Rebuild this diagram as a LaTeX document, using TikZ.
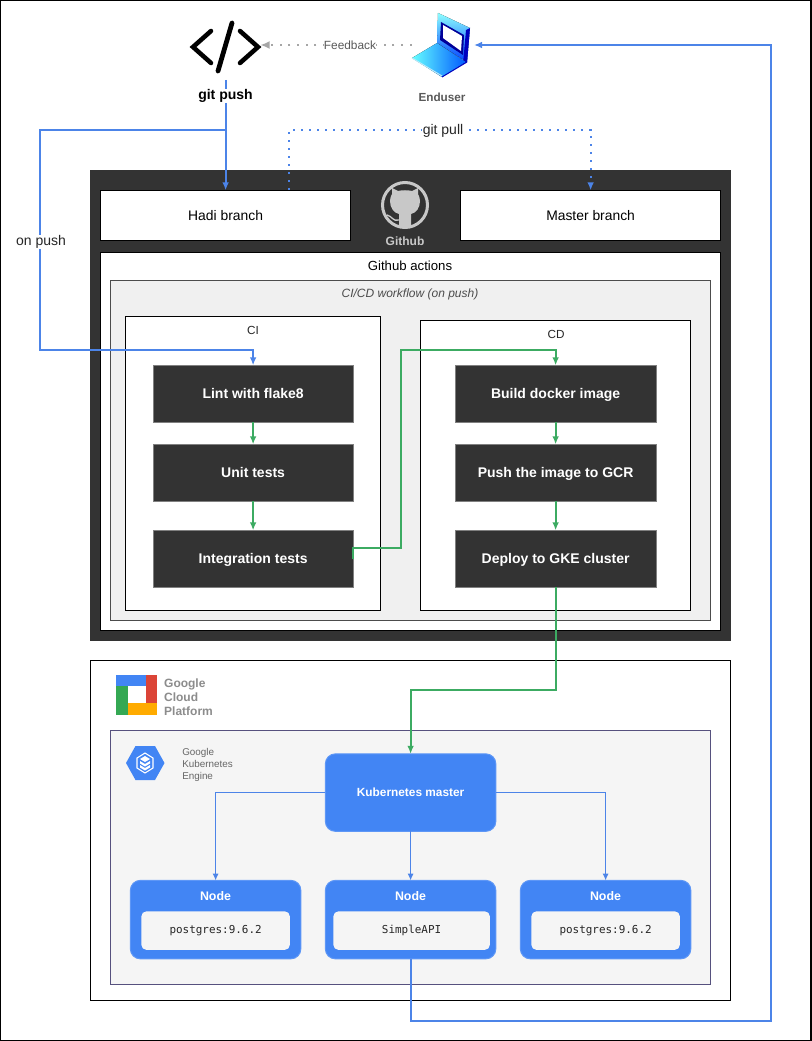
\documentclass[tikz,border=0pt]{standalone}
\usepackage{fontspec}
\setmainfont{Liberation Sans}
\setmonofont{DejaVu Sans Mono}
\usetikzlibrary{arrows.meta}
\definecolor{ghdark}{HTML}{333333}
\definecolor{gcpblue}{HTML}{4285F4}
\definecolor{gcpred}{HTML}{DB4437}
\definecolor{gcpgreen}{HTML}{34A853}
\definecolor{gcpyellow}{HTML}{FFAB00}
\definecolor{flowgreen}{HTML}{3CAB62}
\definecolor{linkblue}{HTML}{4C84E8}
\definecolor{logogrey}{HTML}{C8C8C8}
\definecolor{gkeborder}{HTML}{56517E}

\tikzset{
	wh/.style 2 args = {minimum width = (#1 - 0.5) * 0.75pt, minimum height = (#2 - 0.5) * 0.75pt, inner sep = 0pt, outer sep = 0pt},
	whitebox/.style = {draw = black, line width = 0.75pt, fill = white, align = center},
	stepbox/.style = {fill = ghdark, draw = gray, line width = 0.5pt, text = white, text height = 9pt, text depth = 1pt, font = \fontsize{10.5}{12}\selectfont\bfseries},
	gcpbox/.style = {fill = gcpblue, draw = gcpblue!85!white, line width = 0.75pt, rounded corners = 7.5pt, text = white, font = \fontsize{8.9}{10}\selectfont\bfseries},
	podbox/.style = {fill = black!4, rounded corners = 3.75pt, font = \ttfamily\fontsize{8.2}{10}\selectfont, text = black!85},
	branchtext/.style = {font = \fontsize{10.4}{12}\selectfont},
	linklabel/.style = {font = \fontsize{10.5}{12}\selectfont, text = black!85, fill = white, inner sep = 0.3pt},
	smalllabel/.style = {inner sep = 0pt, align = left},
	bigflow/.style = {-{Latex[length = 6pt, width = 5pt]}, linkblue, line width = 1.5pt},
	pullflow/.style = {-{Latex[length = 6pt, width = 5pt]}, linkblue, line width = 1.5pt, dash pattern = on 1.5pt off 4.5pt},
	greenflow/.style = {-{Latex[length = 6pt, width = 5pt]}, flowgreen, line width = 1.5pt},
	thinflow/.style = {-{Latex[length = 5pt, width = 4.5pt]}, linkblue, line width = 0.75pt}
}

\begin{document}
\begin{tikzpicture}[x = 0.75pt, y = -0.75pt]

	\useasboundingbox (0, 0) rectangle (811, 1041);
	\draw [black, line width = 1.5pt] (0, 0) rectangle (811, 1041);

	% Github frame

	\fill [ghdark] (90, 170) rectangle (731, 641);

	\node [whitebox, wh = {251}{51}, branchtext] (hadi) at (225.6, 215.6) {Hadi branch};
	\node [whitebox, wh = {261}{51}, branchtext] (master) at (590.6, 215.6) {Master branch};
	\node [whitebox, wh = {621}{379}] (actions) at (410.6, 441.6) {};
	\node [font = \fontsize{9.9}{11}\selectfont, inner sep = 0pt] (actionstitle) at (410, 265.5) {Github actions};
	\node [draw = black!70, line width = 0.75pt, fill = black!6, wh = {601}{341}] (workflow) at (410.6, 450.6) {};
	\node [font = \fontsize{9}{10}\selectfont\itshape, text = black!70, inner sep = 0pt] (workflowtitle) at (410, 294) {CI/CD workflow (on push)};

	\node [whitebox, wh = {256}{295}] (ci) at (253.1, 463.6) {};
	\node [font = \fontsize{8.8}{10}\selectfont, text = black!85, inner sep = 0pt] (cititle) at (253, 330) {CI};
	\node [whitebox, wh = {271}{291}] (cd) at (555.6, 465.6) {};
	\node [font = \fontsize{8.8}{10}\selectfont, text = black!85, inner sep = 0pt] (cdtitle) at (556, 334) {CD};

	% Github logo

	\draw [logogrey, line width = 2.25pt] (405, 205) circle [radius = 22.5];
	\fill [logogrey] (399, 226) -- (399, 214)
		.. controls (394, 213) and (390, 208) .. (390, 201)
		.. controls (390, 198) and (391, 196) .. (392, 194)
		-- (392, 188) -- (398, 191)
		.. controls (402, 190) and (408, 190) .. (412, 191)
		-- (418, 188) -- (418, 194)
		.. controls (419, 196) and (420, 198) .. (420, 201)
		.. controls (420, 208) and (416, 213) .. (411, 214)
		-- (411, 226) -- cycle;
	\draw [logogrey, line width = 1pt] (399, 220) .. controls (393, 222) and (392, 216) .. (387, 215);
	\node [text = logogrey, font = \fontsize{9}{11}\selectfont\bfseries, inner sep = 0pt] (githublabel) at (405, 241) {Github};

	% CI and CD steps

	\node [stepbox, wh = {200}{57}] (lint) at (253.1, 393.6) {Lint with flake8};
	\node [stepbox, wh = {200}{57}] (unit) at (253.1, 472.6) {Unit tests};
	\node [stepbox, wh = {200}{57}] (integration) at (253.1, 558.6) {Integration tests};
	\node [stepbox, wh = {201}{57}] (build) at (555.6, 393.6) {Build docker image};
	\node [stepbox, wh = {201}{57}] (push) at (555.6, 472.6) {Push the image to GCR};
	\node [stepbox, wh = {201}{57}] (deploy) at (555.6, 558.6) {Deploy to GKE cluster};

	% Google Cloud frame

	\node [whitebox, wh = {641}{341}] (gcp) at (410.6, 830.6) {};
	\node [draw = gkeborder, line width = 0.75pt, fill = black!4, wh = {601}{255}] (gke) at (410.6, 857.6) {};

	\fill [gcpblue] (116, 675) rectangle (146, 686);
	\fill [gcpred] (146, 675) rectangle (157, 703);
	\fill [gcpgreen] (116, 686) rectangle (128, 715);
	\fill [gcpyellow] (128, 703) rectangle (157, 715);
	\node [smalllabel, text = black!45, font = \fontsize{9}{10.6}\selectfont\bfseries] (gcplabel) at (188.5, 697) {Google\\Cloud\\Platform};

	\fill [gcpblue] (126, 763) -- (135.5, 746) -- (155, 746) -- (164.5, 763) -- (155, 780) -- (135.5, 780) -- cycle;
	\draw [white, line width = 0.8pt] (145, 753) -- (153, 758) -- (153, 768) -- (145, 773) -- (137, 768) -- (137, 758) -- cycle;
	\fill [white] (145, 756) -- (150, 759) -- (145, 762) -- (140, 759) -- cycle;
	\fill [white] (140, 761) -- (145, 764) -- (150, 761) -- (150, 763.5) -- (145, 766.5) -- (140, 763.5) -- cycle;
	\fill [white] (140, 765) -- (145, 768) -- (150, 765) -- (150, 767.5) -- (145, 770.5) -- (140, 767.5) -- cycle;
	\node [smalllabel, text = black!60, font = \fontsize{7.4}{9}\selectfont] (gkelabel) at (207.5, 764.5) {Google\\Kubernetes\\Engine};

	\node [gcpbox, wh = {171}{78}] (kmaster) at (410.6, 792.6) {Kubernetes master};

	\node [gcpbox, wh = {171}{79}] (nodea) at (215.6, 919.6) {};
	\node [gcpbox, wh = {171}{79}] (nodeb) at (410.6, 919.6) {};
	\node [gcpbox, wh = {171}{79}] (nodec) at (605.6, 919.6) {};
	\foreach \pod/\podx in {a/215.5, b/410.5, c/605.5} {
		\node [text = white, font = \fontsize{9.3}{10}\selectfont\bfseries, inner sep = 0pt] (title\pod) at (\podx, 896) {Node};
	}
	\node [podbox, wh = {149}{39}] (poda) at (215.6, 930.6) {postgres:9.6.2};
	\node [podbox, wh = {157}{39}] (podb) at (411.6, 930.6) {SimpleAPI};
	\node [podbox, wh = {149}{39}] (podc) at (605.6, 930.6) {postgres:9.6.2};

	% Icons at the top

	\node [inner sep = 0pt, minimum size = 52.5pt] (code) at (225, 47) {};
	\draw [line width = 3.4pt, line cap = round, line join = miter] (211, 31) -- (193, 47) -- (211, 63);
	\draw [line width = 3.4pt, line cap = round, line join = miter] (240, 31) -- (258, 47) -- (240, 63);
	\draw [line width = 3.6pt, line cap = round] (232, 23) -- (218, 71);

	\node [font = \fontsize{10.5}{12}\selectfont\bfseries, inner sep = 0pt] (gitpush) at (225.5, 96) {git push};

	\node [inner sep = 0pt, minimum width = 45pt, minimum height = 48pt] (laptop) at (442, 45) {};
	\fill [top color = cyan!45!white, bottom color = blue!75!cyan] (438, 13) -- (470, 28) -- (467, 62) -- (437, 43) -- cycle;
	\fill [blue!75!black] (466, 30) -- (470, 28) -- (467, 62) -- (463, 64) -- cycle;
	\fill [blue!60!black] (441, 22) -- (464, 35) -- (463, 55) -- (440, 40) -- cycle;
	\fill [white] (443, 25) -- (462, 36) -- (461, 51) -- (443, 38) -- cycle;
	\fill [left color = cyan!60!white, right color = blue!65!cyan] (412, 58) -- (437, 43) -- (466, 62) -- (442, 77) -- cycle;
	\draw [cyan!25!white, line width = 0.75pt] (412, 58) -- (442, 76);
	\draw [blue!75!black, line width = 0.75pt] (442, 77) -- (467, 62);
	\node [text = black!65, font = \fontsize{8.8}{10}\selectfont\bfseries, inner sep = 0pt] (enduser) at (442, 97) {Enduser};

	% Branch and trigger links

	\coordinate (pushtop) at (225.6, 80);
	\coordinate (pushsplit) at (225.6, 130);
	\draw [linkblue, line width = 1.5pt] (pushtop) -- (gitpush.north -| pushtop);
	\draw [bigflow] (gitpush.south -| pushtop) -- (pushsplit) -- (hadi.north);
	\draw [bigflow] (pushsplit) -- (40, 130) -- (40, 350) -- (lint.north |- 0, 350) -- (lint.north);
	\node [linklabel] (onpush) at (41, 242) {on push};

	\draw [pullflow] (289, 190) -- (289, 130) -- (master.north |- 0, 130) -- (master.north);
	\node [linklabel, text = black!85] (gitpull) at (443, 130.5) {git pull};

	\draw [-{Latex[length = 7pt, width = 6pt]}, black!35, line width = 1.5pt, dash pattern = on 1.5pt off 5pt] (laptop.west) -- (code.east |- laptop.west);
	\node [linklabel, text = black!65, font = \fontsize{8.9}{10}\selectfont] (feedback) at (350, 45) {Feedback};

	% Pipeline links

	\draw [greenflow] (lint) -- (unit);
	\draw [greenflow] (unit) -- (integration);
	\draw [greenflow] (build) -- (push);
	\draw [greenflow] (push) -- (deploy);
	\draw [greenflow] (integration.east) |- (401, 548) -- (401, 350) -- (build.north |- 0, 350) -- (build.north);
	\draw [greenflow] (deploy.south) -- (deploy.south |- 0, 690) -- (kmaster.north |- 0, 690) -- (kmaster.north);

	% Cluster links

	\draw [thinflow] (kmaster.west) -| (nodea.north);
	\draw [thinflow] (kmaster.south) -- (nodeb.north);
	\draw [thinflow] (kmaster.east) -| (nodec.north);
	\draw [bigflow] (nodeb.south) -- (nodeb.south |- 0, 1021) -- (771, 1021) -- (771, 45) -- (474, 45);

\end{tikzpicture}
\end{document}
